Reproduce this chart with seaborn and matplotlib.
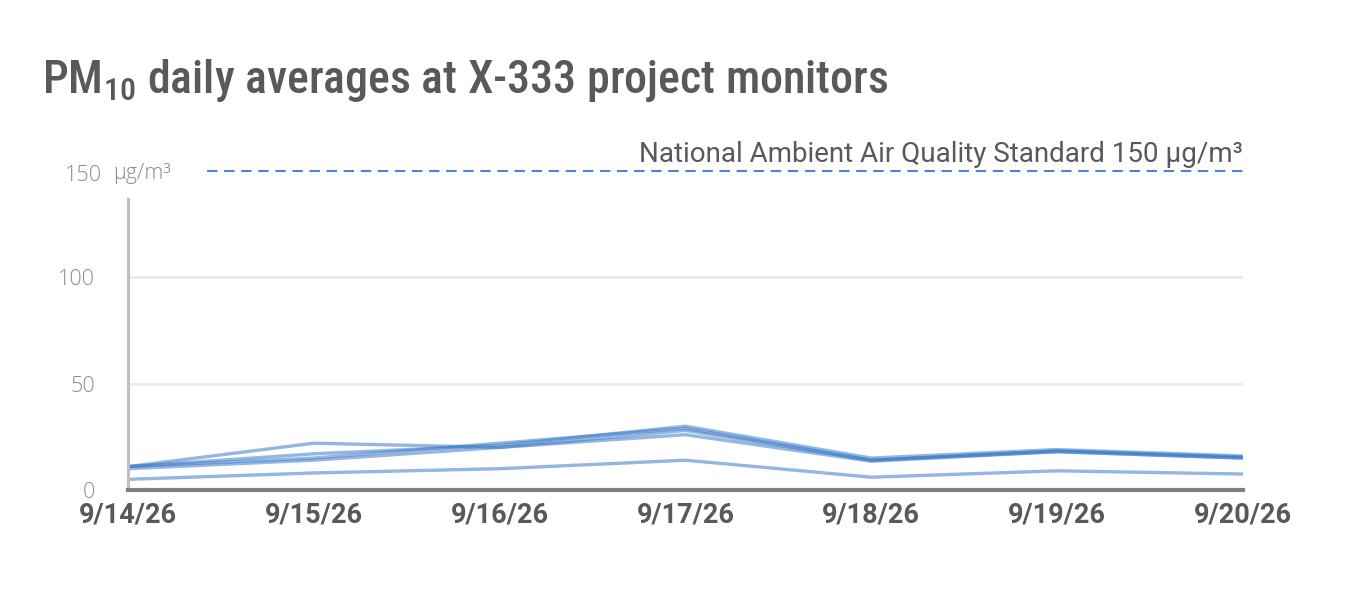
import numpy as np
import pandas as pd
import matplotlib
matplotlib.use('Agg')
import matplotlib.pyplot as plt
import seaborn as sns

# ------------------------------------------------------------------
# Data
# ------------------------------------------------------------------
dates = ['9/14/26', '9/15/26', '9/16/26', '9/17/26', '9/18/26', '9/19/26', '9/20/26']
monitor_a = [11, 22, 20, 28, 14, 18, 15]
monitor_b = [11, 17, 21, 30, 15, 19, 16]
monitor_c = [11, 15, 22, 29, 14, 18.5, 15.5]
monitor_d = [10, 14, 20, 26, 13.5, 18, 15]
monitor_e = [5, 8, 10, 14, 6, 9, 7.5]
naaqs = 150
y_ticks = [0, 50, 100]

df = pd.DataFrame({
    'date': dates * 5,
    'pm10': monitor_a + monitor_b + monitor_c + monitor_d + monitor_e,
    'monitor': sum([[m] * len(dates) for m in 'ABCDE'], []),
})

sns.set_style('white')
plt.rcParams['font.family'] = ['Roboto', 'DejaVu Sans']
plt.rcParams['mathtext.fontset'] = 'custom'
plt.rcParams['mathtext.rm'] = 'Roboto Condensed:medium'
plt.rcParams['mathtext.it'] = 'Roboto Condensed:medium'
plt.rcParams['mathtext.default'] = 'rm'

LINE = '#3d7cc9'
GREY = '#595959'
LIGHT = '#8c8c8c'
TICKFONT = ['Open Sans', 'DejaVu Sans']

fig = plt.figure(figsize=(13.5, 6.15), dpi=100)
ax = fig.add_axes([0.0948, 0.2033, 0.8259, 0.5187])

sns.lineplot(data=df, x='date', y='pm10', units='monitor', estimator=None,
             color=LINE, alpha=0.55, lw=2.4, sort=False, ax=ax)

ax.set_xlim(0, len(dates) - 1)
ax.set_ylim(0, naaqs)
ax.set_xticks(range(len(dates)))
ax.set_xticklabels(dates, fontsize=19.5, fontweight='bold', color=GREY)
ax.set_yticks(y_ticks)
ax.set_yticklabels([str(t) for t in y_ticks], fontsize=15.5, color=LIGHT,
                   family=TICKFONT, fontweight='light')
ax.tick_params(axis='x', length=0, pad=8)
ax.tick_params(axis='y', length=0, pad=24)
ax.set_xlabel('')
ax.set_ylabel('')

for t in y_ticks[1:]:
    ax.axhline(t, color='#ebebeb', lw=2, zorder=0)

for s in ['top', 'right']:
    ax.spines[s].set_visible(False)
ax.spines['left'].set_color('#bfbfbf')
ax.spines['left'].set_linewidth(2.2)
ax.spines['left'].set_bounds(0, 137)
ax.spines['bottom'].set_color('#7f7f7f')
ax.spines['bottom'].set_linewidth(3)

# standard line and labels
ax.axhline(naaqs, xmin=0.071, xmax=1, color='#4a86d0', lw=1.5, ls=(0, (5, 3.2)), clip_on=False)
ax.text(1.0, naaqs + 1.5, 'National Ambient Air Quality Standard 150 µg/m³',
        transform=ax.get_yaxis_transform(), ha='right', va='bottom', fontsize=20, color=GREY)
ax.text(-0.0235, naaqs - 2, '150', transform=ax.get_yaxis_transform(), ha='right', va='center',
        fontsize=15.5, color=LIGHT, family=TICKFONT, fontweight='light')
ax.text(-0.0135, naaqs - 1, 'µg/m³', transform=ax.get_yaxis_transform(), ha='left', va='center',
        fontsize=15.5, color=LIGHT, family=TICKFONT, fontweight='light')

# title with subscript
fig.text(0.031, 0.848, r'PM$_{10}$ daily averages at X-333 project monitors',
         fontsize=33, color=GREY, fontweight='medium',
         family=['Roboto Condensed', 'DejaVu Sans'])

fig.savefig('out.png', dpi=100)
